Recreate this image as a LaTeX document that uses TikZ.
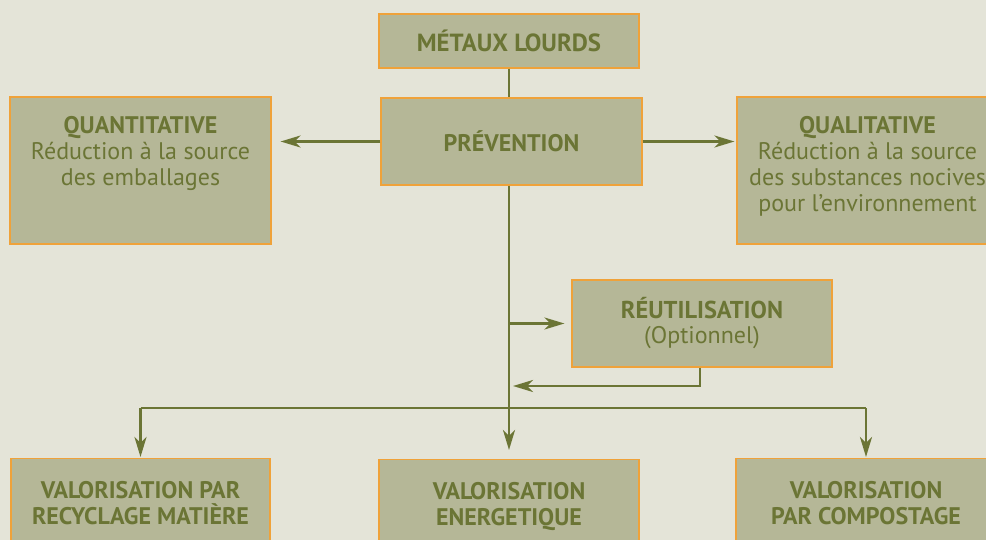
\documentclass[tikz,border=0pt]{standalone}
\usepackage{fontspec}
\setmainfont{PT Sans}
\usetikzlibrary{arrows.meta, positioning, calc}

\definecolor{bgcol}{HTML}{E4E4D8}
\definecolor{boxfill}{HTML}{B5B797}
\definecolor{boxline}{HTML}{EFA23A}
\definecolor{leafgreen}{HTML}{6B7535}

\begin{document}
\begin{tikzpicture}[x=0.5pt, y=-0.5pt,
  box/.style={draw=boxline, line width=0.6pt, fill=boxfill, inner sep=0pt,
    text=leafgreen, align=center},
  boxtext/.style={anchor=north, inner sep=0pt, text=leafgreen, align=center,
    font=\fontsize{12}{13}\selectfont},
  link/.style={draw=leafgreen, line width=1.4pt},
  arr/.style={link, -{Stealth[length=10pt, width=6pt, inset=3pt]}}]
\useasboundingbox (0,0) rectangle (986,540);
\clip (0,0) rectangle (986,540);
\fill[bgcol] (0,0) rectangle (986,540);

% Top
\node[box, minimum width=130pt, minimum height=27pt, font=\bfseries\fontsize{12.4}{13}\selectfont]
  (metaux) at (509,41) {MÉTAUX LOURDS};
\node[box, minimum width=130.5pt, minimum height=43.5pt, font=\bfseries\fontsize{12}{13}\selectfont]
  (prev) at (511.5,141.5) {PRÉVENTION};

% Sides
\node[box, minimum width=130.5pt, minimum height=73.5pt] (quanti) at (140.5,170.5) {};
\node[boxtext] (quanti-t) at ([yshift=-9.7pt]quanti.north)
  {\textbf{\fontsize{12}{13}\selectfont QUANTITATIVE}\\Réduction à la source\\des emballages};
\node[box, minimum width=130.5pt, minimum height=73.5pt] (quali) at (867.5,170.5) {};
\node[boxtext] (quali-t) at ([yshift=-9.7pt]quali.north)
  {\textbf{\fontsize{12}{13}\selectfont QUALITATIVE}\\Réduction à la source\\des substances nocives\\pour l’environnement};

% Reuse
\node[box, minimum width=130pt, minimum height=43.5pt, font=\fontsize{12}{12.5}\selectfont]
  (reuse) at (702,323.5) {\textbf{\fontsize{12.2}{12.5}\selectfont RÉUTILISATION}\\(Optionnel)};

% Bottom
\node[box, minimum width=129.5pt, minimum height=60pt, anchor=north] (recy) at (140.5,458) {};
\node[box, minimum width=130pt, minimum height=60pt, anchor=north] (ener) at (509,459) {};
\node[box, minimum width=130pt, minimum height=60pt, anchor=north] (compo) at (866,458) {};
\node[boxtext, font=\bfseries\fontsize{12}{13}\selectfont] (recy-t) at ([yshift=-11.6pt]recy.north)
  {VALORISATION PAR\\RECYCLAGE MATIÈRE};
\node[boxtext, font=\bfseries\fontsize{12}{13}\selectfont] (ener-t) at ([yshift=-11.6pt]ener.north)
  {VALORISATION\\ENERGETIQUE};
\node[boxtext, font=\bfseries\fontsize{12}{13}\selectfont] (compo-t) at ([yshift=-11.6pt]compo.north)
  {VALORISATION\\PAR COMPOSTAGE};

\coordinate (fork) at (509,408);
\coordinate (back) at (509,386);

% Connectors
\draw[link] (metaux.south) -- (metaux.south |- prev.north);
\draw[arr, shorten >=4.5pt] (prev.west) -- (prev.west -| quanti.east);
\draw[arr, shorten >=1pt] (prev.east) -- (prev.east -| quali.west);
\draw[arr, shorten >=4.5pt] (metaux.south |- prev.south) -- (ener.north);
\draw[arr, shorten >=3.5pt] (reuse.west -| fork) -- (reuse.west);
\draw[arr, shorten >=2pt] ([xshift=-1pt]reuse.south) |- (back);
\draw[link] (recy.north |- fork) -- (compo.north |- fork);
\draw[arr, shorten >=0.5pt] (recy.north |- fork) -- (recy.north);
\draw[arr, shorten >=0.5pt] (compo.north |- fork) -- (compo.north);
\end{tikzpicture}
\end{document}
